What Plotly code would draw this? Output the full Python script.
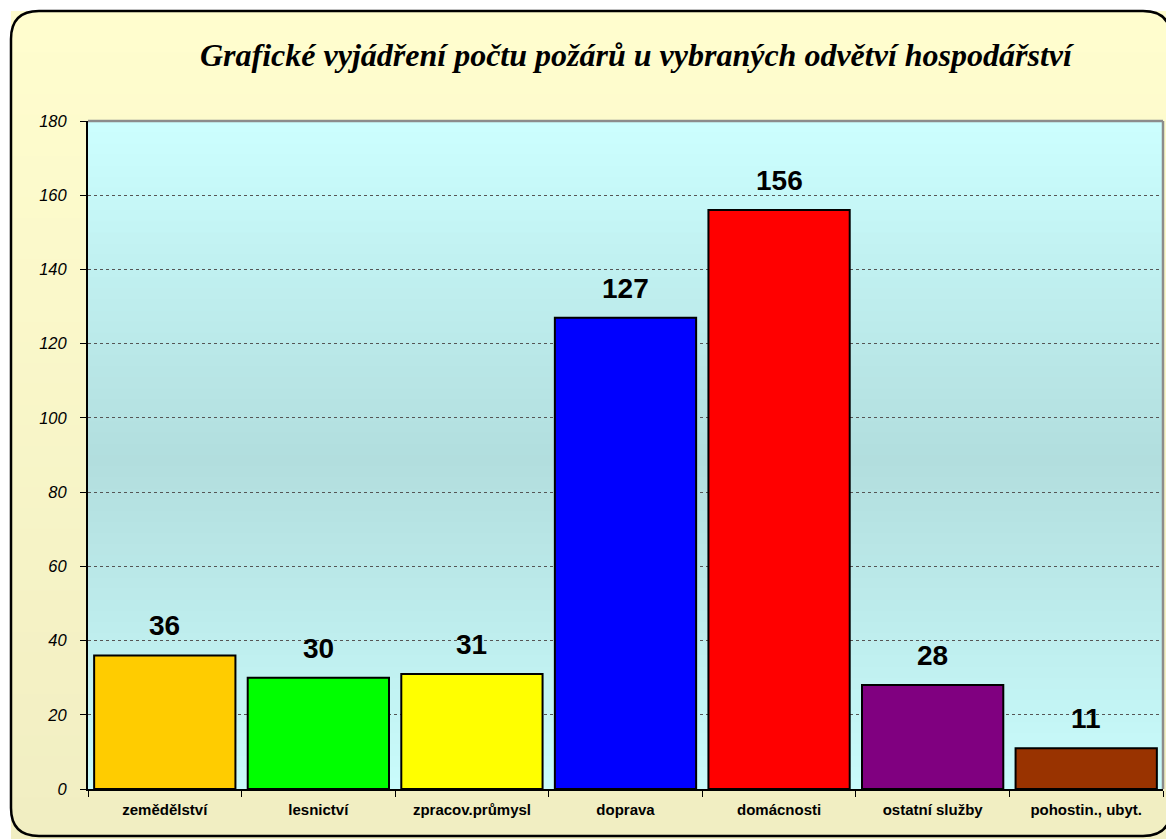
import plotly.graph_objects as go

categories = ["zemědělství", "lesnictví", "zpracov.průmysl", "doprava",
              "domácnosti", "ostatní služby", "pohostin., ubyt."]
values = [36, 30, 31, 127, 156, 28, 11]
colors = ["#FFCC00", "#00FF00", "#FFFF00", "#0000FF", "#FF0000", "#800080", "#993300"]
y_ticks = [0, 20, 40, 60, 80, 100, 120, 140, 160, 180]
title_text = "Grafické vyjádření počtu požárů u vybraných odvětví hospodářství"

# the page body has an 8px margin, so the figure is laid out 8px smaller
OFF = 8
W, H = 1174 - OFF, 839 - OFF
ML, MT = 88 - OFF, 121 - OFF
MR = W - (1163 - OFF)
MB = H - (789 - OFF)
PW, PH = W - ML - MR, H - MT - MB


def px_x(px):
    return (px - OFF - ML) / PW


def px_y(py):
    return (H - MB - (py - OFF)) / PH


def lerp(c1, c2, t):
    return tuple(round(a + (b - a) * t) for a, b in zip(c1, c2))


shapes = []

# yellow outer background (gradient stripes)
y_top, y_bot = (255, 253, 206), (241, 238, 194)
n = 40
for i in range(n):
    py0 = 11 + (839 - 11) * i / n
    py1 = 11 + (839 - 11) * (i + 1) / n + 1
    c = lerp(y_top, y_bot, i / (n - 1))
    shapes.append(dict(type="rect", xref="paper", yref="paper", layer="below",
                       x0=px_x(11), x1=px_x(1174 + 2), y0=px_y(py1), y1=px_y(py0),
                       fillcolor="rgb(%d,%d,%d)" % c, line=dict(width=0)))

# plot area gradient (cyan, darker in the middle)
c_top, c_mid, c_bot = (204, 255, 255), (178, 222, 222), (201, 251, 251)
m = 60
ymax = y_ticks[-1]
for i in range(m):
    v0 = ymax * i / m
    v1 = ymax * (i + 1) / m
    t = (i + 0.5) / m
    if t < 0.5:
        c = lerp(c_bot, c_mid, t / 0.5)
    else:
        c = lerp(c_mid, c_top, (t - 0.5) / 0.5)
    shapes.append(dict(type="rect", xref="x", yref="y", layer="below",
                       x0=-0.5, x1=len(categories) - 0.5, y0=v0, y1=v1 + 0.5,
                       fillcolor="rgb(%d,%d,%d)" % c, line=dict(width=0)))

# gray top/right plot border
shapes.append(dict(type="line", xref="paper", yref="paper", x0=0, x1=1, y0=1, y1=1,
                   line=dict(color="#8C8C8C", width=2.5)))
shapes.append(dict(type="line", xref="paper", yref="paper", x0=1, x1=1, y0=0, y1=1,
                   line=dict(color="#8C8C8C", width=2.5)))

# rounded outer border
x0, x1, yt, yb, r = 11, 1171, 11, 836, 28


def P(px, py):
    return "%.5f,%.5f" % (px_x(px), px_y(py))


path = ("M " + P(x0 + r, yt) + " L " + P(x1 - r, yt) + " Q " + P(x1, yt) + " " + P(x1, yt + r) +
        " L " + P(x1, yb - r) + " Q " + P(x1, yb) + " " + P(x1 - r, yb) +
        " L " + P(x0 + r, yb) + " Q " + P(x0, yb) + " " + P(x0, yb - r) +
        " L " + P(x0, yt + r) + " Q " + P(x0, yt) + " " + P(x0 + r, yt) + " Z")
shapes.append(dict(type="path", xref="paper", yref="paper", path=path,
                   line=dict(color="black", width=2.5), fillcolor="rgba(0,0,0,0)"))

fig = go.Figure(go.Bar(
    x=categories, y=values,
    marker=dict(color=colors, line=dict(color="black", width=2)),
    width=0.92,
    hoverinfo="x+y",
))

annotations = [dict(x=c, y=v, text=str(v), showarrow=False, yanchor="bottom", yshift=12,
                    font=dict(family="Arial, Liberation Sans", size=28, color="black", weight="bold"))
               for c, v in zip(categories, values)]
annotations.append(dict(xref="paper", yref="paper", x=px_x(637), y=px_y(55), text=title_text,
                        showarrow=False, xanchor="center", yanchor="middle",
                        font=dict(family="Times New Roman, Liberation Serif", size=32,
                                  color="black", weight="bold", style="italic")))

fig.update_layout(
    width=W, height=H,
    margin=dict(l=ML, r=MR, t=MT, b=MB, pad=0),
    paper_bgcolor="white", plot_bgcolor="rgba(0,0,0,0)",
    shapes=shapes, annotations=annotations,
    showlegend=False,
    xaxis=dict(
        range=[-0.5, len(categories) - 0.5],
        showline=True, linecolor="black", linewidth=2,
        ticks="outside", tickson="boundaries", ticklen=6, tickcolor="black",
        showgrid=False,
        tickfont=dict(family="Arial, Liberation Sans", size=15, color="black", weight="bold"),
        ticklabelstandoff=6,
    ),
    yaxis=dict(
        range=[0, ymax], tickvals=y_ticks,
        showline=True, linecolor="black", linewidth=2,
        ticks="outside", ticklen=6, tickcolor="black",
        showgrid=True, gridcolor="#555555", griddash="dot", gridwidth=1,
        zeroline=False,
        tickfont=dict(family="Arial, Liberation Sans", size=16.5, color="black", style="italic"),
        ticklabelstandoff=10,
    ),
)

fig.write_html("out.html")
